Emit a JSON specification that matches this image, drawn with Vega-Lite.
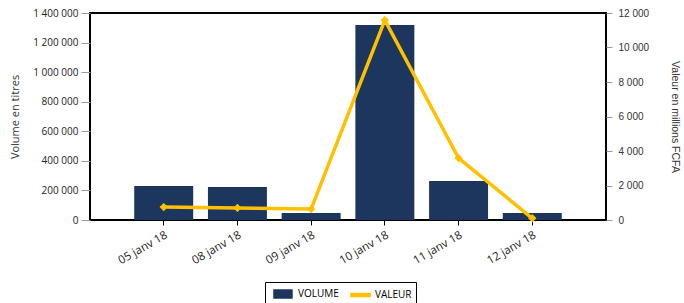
{
  "$schema": "https://vega.github.io/schema/vega-lite/v6.json",
  "width": 516,
  "height": 207,
  "autosize": "none",
  "padding": {"left": 90, "top": 13, "right": 78, "bottom": 83},
  "config": {
    "locale": {"number": {"decimal": ",", "thousands": " ", "grouping": [3], "currency": ["", ""]}},
    "view": {"stroke": "#000000", "strokeWidth": 2},
    "axis": {"domain": false, "grid": false}
  },
  "data": {"values": [
    {"date": "05 janv 18", "volume": 230000, "valeur": 750},
    {"date": "08 janv 18", "volume": 223000, "valeur": 700},
    {"date": "09 janv 18", "volume": 47000, "valeur": 640},
    {"date": "10 janv 18", "volume": 1319000, "valeur": 11590},
    {"date": "11 janv 18", "volume": 264000, "valeur": 3590},
    {"date": "12 janv 18", "volume": 47000, "valeur": 100}
  ]},
  "encoding": {
    "x": {
      "field": "date", "type": "nominal", "sort": null,
      "scale": {"paddingInner": 0.2, "paddingOuter": 0.6},
      "axis": {"title": null, "labelAngle": -30, "labelFont": "Open Sans", "labelFontSize": 11.5, "labelColor": "#222222", "tickColor": "#000000", "tickSize": 5, "labelPadding": 4}
    }
  },
  "layer": [
    {
      "mark": {"type": "bar"},
      "encoding": {
        "y": {
          "field": "volume", "type": "quantitative",
          "scale": {"domain": [0, 1400000], "nice": false},
          "axis": {"title": "Volume en titres", "values": [0, 200000, 400000, 600000, 800000, 1000000, 1200000, 1400000], "format": ",d", "labelFont": "Open Sans", "labelFontSize": 10, "labelColor": "#222222", "tickColor": "#999999", "tickSize": 9, "labelPadding": 3, "titleFont": "Open Sans", "titleFontSize": 11, "titleFontWeight": "normal", "titleColor": "#333333", "titlePadding": 12}
        },
        "color": {
          "datum": "VOLUME",
          "scale": {"domain": ["VOLUME", "VALEUR"], "range": ["#1c365e", "#ffc000"]},
          "legend": {
            "title": null, "orient": "none", "legendX": 175, "legendY": 269, "direction": "horizontal",
            "strokeColor": "#000000", "padding": 4, "columnPadding": 7, "labelOffset": 13,
            "labelFont": "Open Sans", "labelFontSize": 10, "labelColor": "#000000",
            "symbolSize": 196,
            "encode": {"symbols": {"update": {
              "shape": {"signal": "datum.value === 'VOLUME' ? 'M-0.43,-0.57H2.14V0.57H-0.43Z' : 'M-0.43,-0.2H2.3V0.2H-0.43Z'"},
              "fill": {"scale": "color", "field": "value"},
              "stroke": {"value": "transparent"},
              "opacity": {"value": 1}
            }}}
          }
        }
      }
    },
    {
      "mark": {"type": "line", "strokeWidth": 3.5, "point": {"filled": true, "shape": "diamond", "size": 70}},
      "encoding": {
        "y": {
          "field": "valeur", "type": "quantitative",
          "scale": {"domain": [0, 12000], "nice": false},
          "axis": {"orient": "right", "title": "Valeur en millions FCFA", "values": [0, 2000, 4000, 6000, 8000, 10000, 12000], "format": ",d", "labelFont": "Liberation Sans", "labelFontSize": 10, "labelColor": "#333333", "tickColor": "#999999", "tickSize": 6, "labelPadding": 6, "titleFont": "Liberation Sans", "titleFontSize": 10.5, "titleFontWeight": "normal", "titleColor": "#333333", "titleAngle": 90, "titlePadding": 21}
        },
        "color": {"datum": "VALEUR"}
      }
    }
  ],
  "resolve": {"scale": {"y": "independent"}}
}
